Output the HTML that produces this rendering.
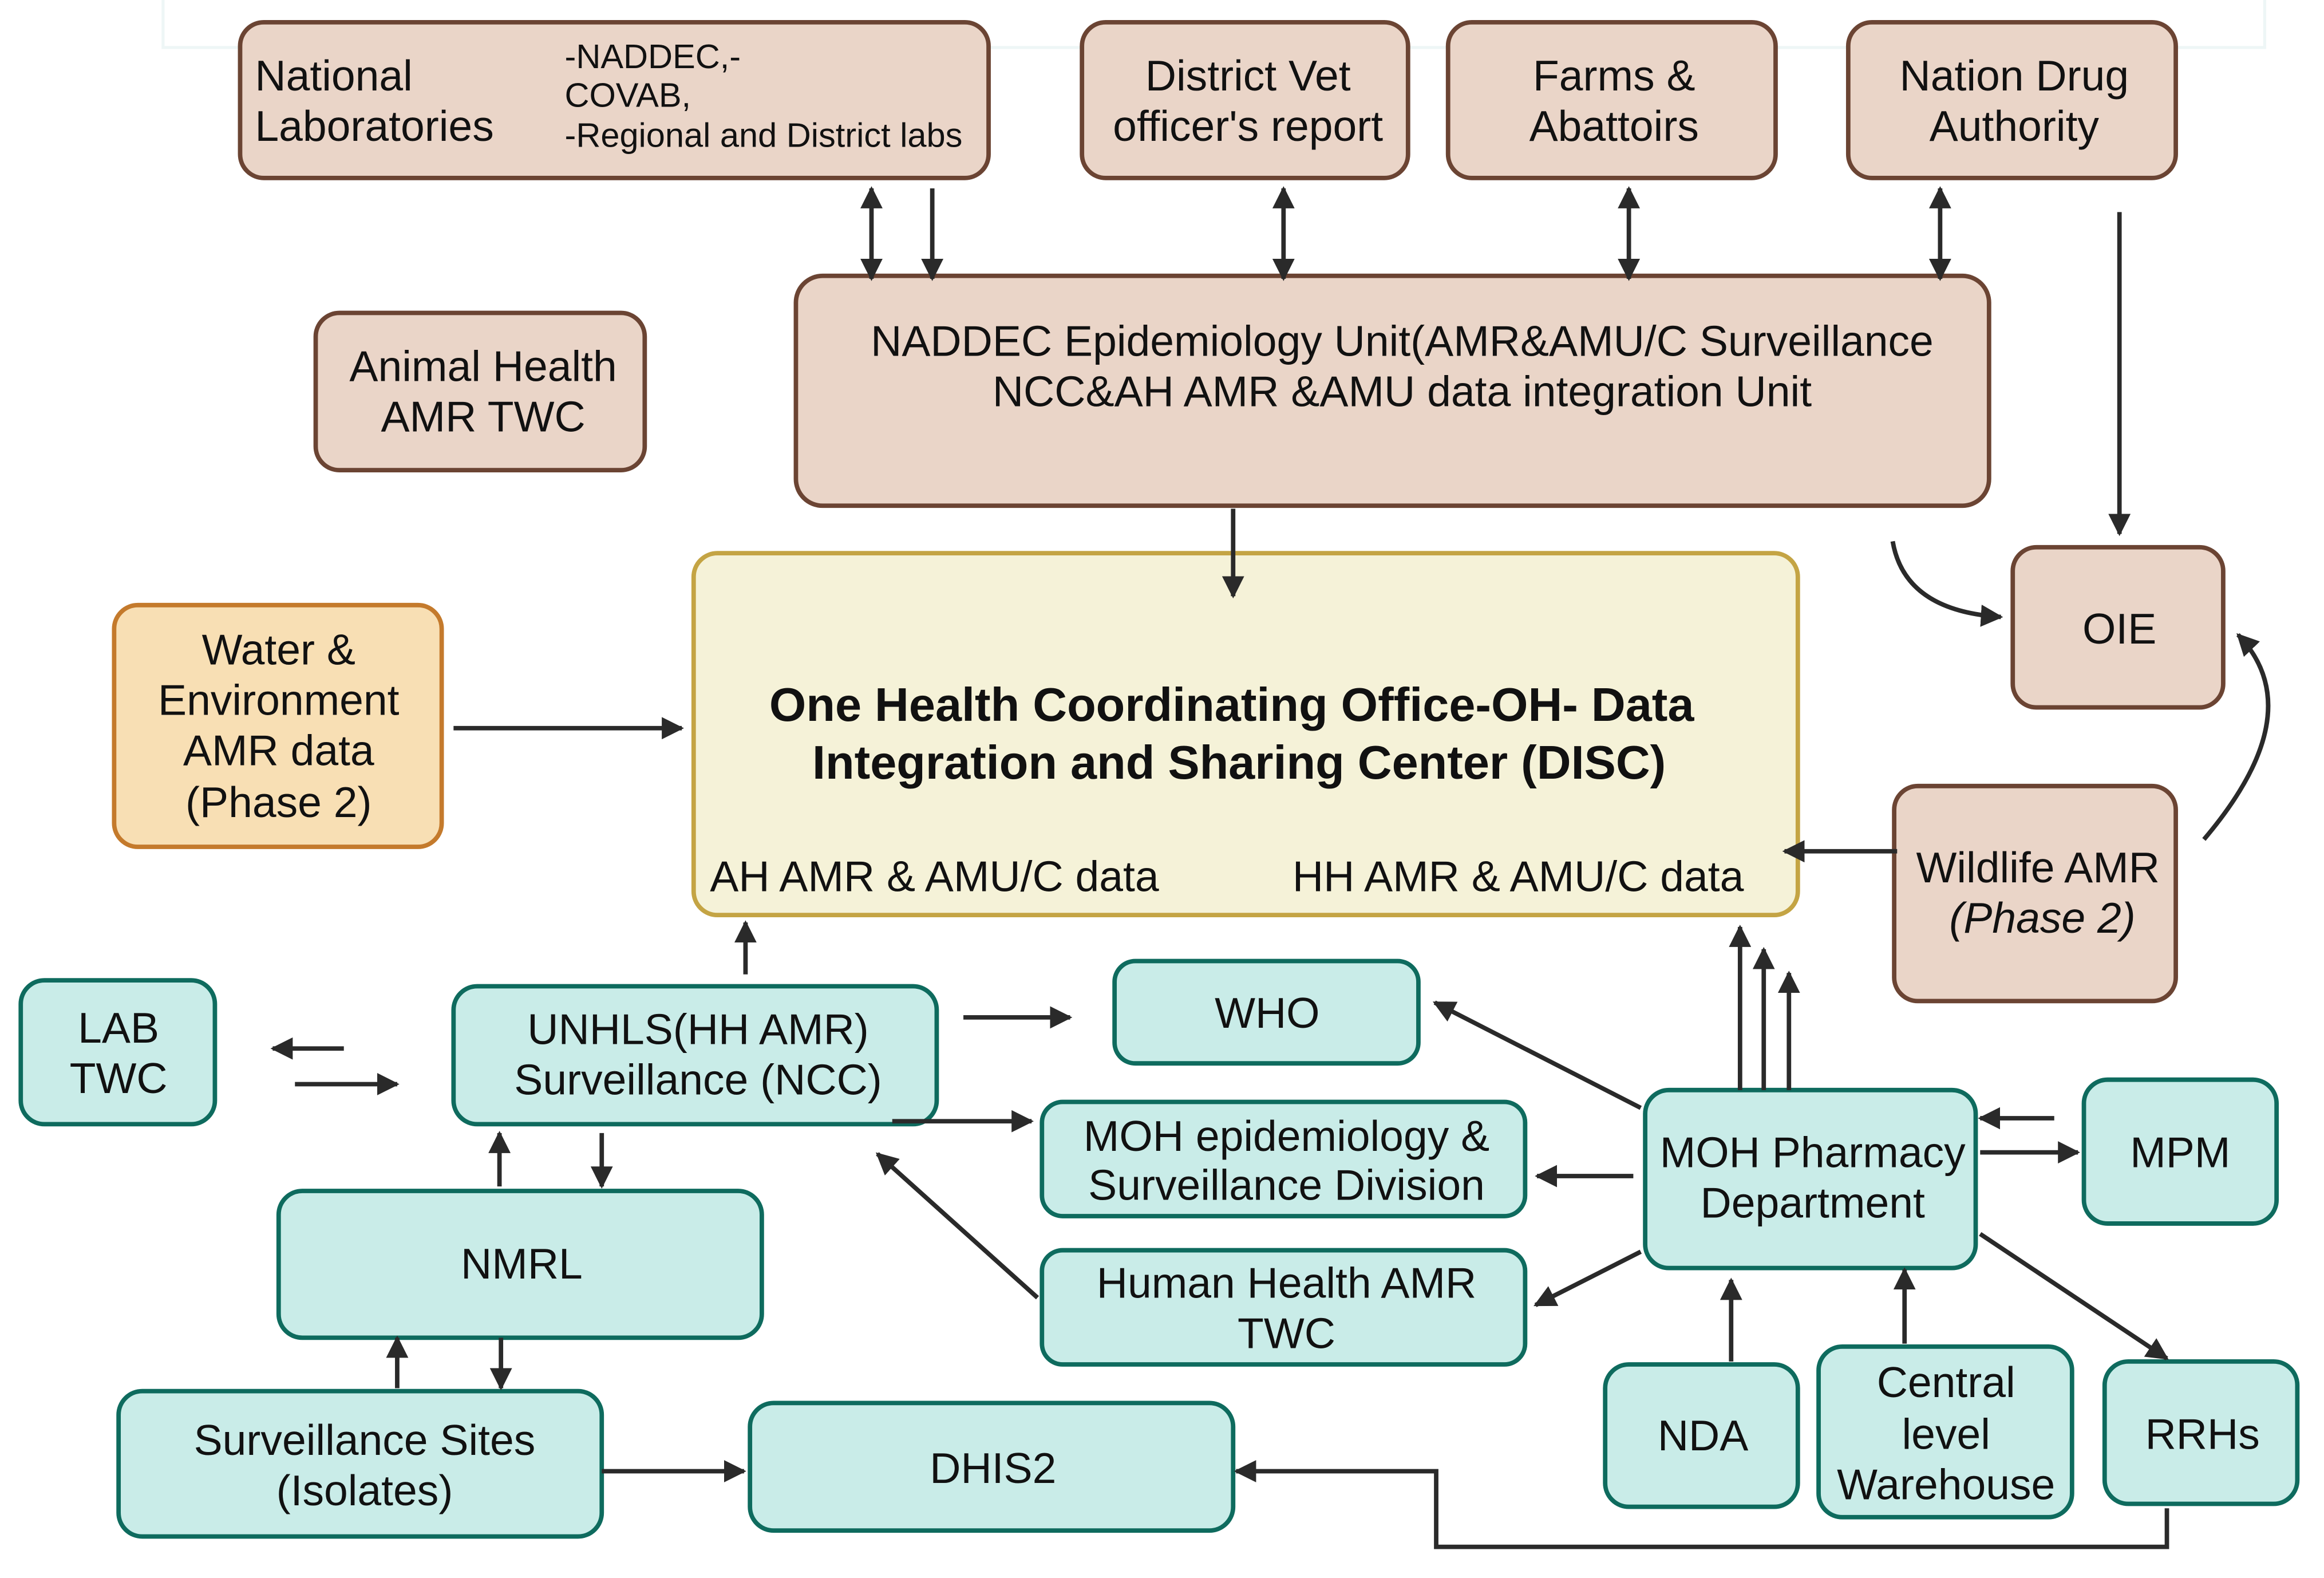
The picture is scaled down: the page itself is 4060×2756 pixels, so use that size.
<!DOCTYPE html>
<html><head><meta charset="utf-8"><style>
html,body{margin:0;padding:0;background:#fff}
svg{display:block}
text{font-family:"Liberation Sans",sans-serif;fill:#111}
</style></head><body>
<svg width="4060" height="2756" viewBox="0 0 1568 1064" preserveAspectRatio="none" xmlns="http://www.w3.org/2000/svg">
<defs>
<marker id="a" viewBox="0 0 10 10" refX="9" refY="5" markerWidth="5" markerHeight="5" orient="auto-start-reverse"><path d="M0,0 L10,5 L0,10 z" fill="#2a2a2a"/></marker>
</defs>
<rect x="110" y="-5" width="1418" height="37" fill="none" stroke="#eef6f6" stroke-width="2"/>
<g stroke-width="3">
<g fill="#ead5c8" stroke="#6b4433">
<rect x="162" y="15" width="505" height="105" rx="16"/>
<rect x="730" y="15" width="220" height="105" rx="16"/>
<rect x="977" y="15" width="221" height="105" rx="16"/>
<rect x="1247" y="15" width="221" height="105" rx="16"/>
<rect x="537" y="186" width="805" height="155" rx="18"/>
<rect x="213" y="211" width="222" height="106" rx="16"/>
<rect x="1358" y="369" width="142" height="108" rx="16"/>
<rect x="1278" y="530" width="190" height="145" rx="16"/>
</g>
<rect x="77" y="408" width="221" height="163" rx="16" fill="#f8dfb4" stroke="#c47a2c"/>
<rect x="468" y="373" width="745" height="244" rx="16" fill="#f5f2d8" stroke="#c4a444"/>
<g fill="#c9ece8" stroke="#0e6b5e">
<rect x="14" y="661" width="131" height="97" rx="16"/>
<rect x="306" y="665" width="326" height="93" rx="16"/>
<rect x="752" y="648" width="205" height="69" rx="14"/>
<rect x="703" y="743" width="326" height="77" rx="14"/>
<rect x="703" y="843" width="326" height="77" rx="14"/>
<rect x="1110" y="735" width="223" height="120" rx="16"/>
<rect x="1406" y="728" width="130" height="97" rx="16"/>
<rect x="188" y="803" width="326" height="99" rx="16"/>
<rect x="80" y="938" width="326" height="98" rx="16"/>
<rect x="506" y="946" width="326" height="86" rx="16"/>
<rect x="1083" y="920" width="130" height="96" rx="16"/>
<rect x="1227" y="908" width="171" height="115" rx="16"/>
<rect x="1420" y="918" width="130" height="96" rx="16"/>
</g>
</g>
<g stroke="#2a2a2a" stroke-width="3" fill="none" marker-end="url(#a)">
<line x1="588" y1="127" x2="588" y2="188" marker-start="url(#a)"/>
<line x1="629" y1="127" x2="629" y2="188"/>
<line x1="866" y1="127" x2="866" y2="188" marker-start="url(#a)"/>
<line x1="1099" y1="127" x2="1099" y2="188" marker-start="url(#a)"/>
<line x1="1309" y1="127" x2="1309" y2="188" marker-start="url(#a)"/>
<line x1="1430" y1="143" x2="1430" y2="360"/>
<line x1="832" y1="343" x2="832" y2="402"/>
<line x1="306" y1="491" x2="460" y2="491"/>
<path d="M1277,365 Q1285,412 1350,416"/>
<path d="M1487,566 Q1560,480 1510,428"/>
<line x1="1280" y1="574" x2="1204" y2="574"/>
<line x1="503" y1="657" x2="503" y2="622"/>
<line x1="232" y1="707" x2="184" y2="707"/>
<line x1="199" y1="731" x2="268" y2="731"/>
<line x1="650" y1="686" x2="722" y2="686"/>
<line x1="602" y1="756" x2="696" y2="756"/>
<line x1="700" y1="875" x2="592" y2="778"/>
<line x1="337" y1="800" x2="337" y2="764"/>
<line x1="406" y1="764" x2="406" y2="800"/>
<line x1="268" y1="936" x2="268" y2="902"/>
<line x1="338" y1="902" x2="338" y2="936"/>
<line x1="406" y1="992" x2="502" y2="992"/>
<path d="M1462,1017 L1462,1043 L969,1043 L969,992 L834,992"/>
<line x1="1107" y1="747" x2="968" y2="676"/>
<line x1="1102" y1="793" x2="1037" y2="793"/>
<line x1="1107" y1="844" x2="1036" y2="880"/>
<line x1="1174" y1="735" x2="1174" y2="625"/>
<line x1="1190" y1="735" x2="1190" y2="640"/>
<line x1="1207" y1="735" x2="1207" y2="656"/>
<line x1="1386" y1="754" x2="1336" y2="754"/>
<line x1="1336" y1="777" x2="1402" y2="777"/>
<line x1="1336" y1="832" x2="1462" y2="916"/>
<line x1="1168" y1="918" x2="1168" y2="863"/>
<line x1="1285" y1="906" x2="1285" y2="856"/>
</g>
<g font-size="29">
<text x="172" y="61">National</text>
<text x="172" y="95">Laboratories</text>
<text x="381" y="46" font-size="23">-NADDEC,-</text>
<text x="381" y="72" font-size="23">COVAB,</text>
<text x="381" y="99" font-size="23">-Regional and District labs</text>
<g text-anchor="middle">
<text x="842" y="61">District Vet</text><text x="842" y="95">officer's report</text>
<text x="1089" y="61">Farms &amp;</text><text x="1089" y="95">Abattoirs</text>
<text x="1359" y="61">Nation Drug</text><text x="1359" y="95">Authority</text>
<text x="946" y="240">NADDEC Epidemiology Unit(AMR&amp;AMU/C Surveillance</text>
<text x="946" y="274">NCC&amp;AH AMR &amp;AMU data integration Unit</text>
<text x="326" y="257">Animal Health</text><text x="326" y="291">AMR TWC</text>
<text x="188" y="448">Water &amp;</text><text x="188" y="482">Environment</text><text x="188" y="516">AMR data</text><text x="188" y="551">(Phase 2)</text>
<text x="831" y="486" font-weight="bold" font-size="32">One Health Coordinating Office-OH- Data</text>
<text x="836" y="525" font-weight="bold" font-size="32">Integration  and Sharing Center (DISC)</text>
<text x="1430" y="434">OIE</text>
<text x="1375" y="595">Wildlife AMR</text><text x="1378" y="629" font-style="italic">(Phase 2)</text>
<text x="80" y="703">LAB</text><text x="80" y="737">TWC</text>
<text x="471" y="704">UNHLS(HH AMR)</text><text x="471" y="738">Surveillance (NCC)</text>
<text x="855" y="693">WHO</text>
<text x="868" y="776">MOH epidemiology &amp;</text><text x="868" y="809">Surveillance Division</text>
<text x="868" y="875">Human Health AMR</text><text x="868" y="909">TWC</text>
<text x="1223" y="787">MOH Pharmacy</text><text x="1223" y="821">Department</text>
<text x="1471" y="787">MPM</text>
<text x="352" y="862">NMRL</text>
<text x="246" y="981">Surveillance Sites</text><text x="246" y="1015">(Isolates)</text>
<text x="670" y="1000">DHIS2</text>
<text x="1149" y="978">NDA</text>
<text x="1313" y="942">Central</text><text x="1313" y="977">level</text><text x="1313" y="1011">Warehouse</text>
<text x="1486" y="977">RRHs</text>
</g>
<text x="479" y="601">AH AMR &amp; AMU/C data</text>
<text x="872" y="601">HH AMR &amp;  AMU/C data</text>
</g>
</svg>
</body></html>
